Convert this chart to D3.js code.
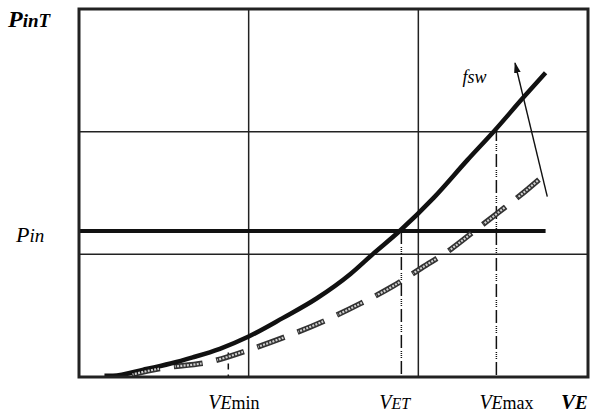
<!DOCTYPE html>
<html>
<head>
<meta charset="utf-8">
<script src="https://cdn.jsdelivr.net/npm/d3@7"></script>
<style>
  body { margin: 0; background: #fff; }
</style>
</head>
<body>
<script>
// schematic units: 3 grid cells each way
const gridX = [1, 2];
const gridY = [1, 2];

// PinT vs VE, fixed switching frequency (solid)
const solidVE = [0.15, 0.20, 0.38, 0.54, 0.67, 0.83, 1.00, 1.20, 1.40, 1.60, 1.73, 1.89, 2.09, 2.29, 2.45, 2.62, 2.75];
const solidP  = [0.01, 0.01, 0.06, 0.11, 0.16, 0.23, 0.33, 0.48, 0.64, 0.84, 1.00, 1.19, 1.46, 1.77, 2.01, 2.28, 2.48];

// PinT vs VE, higher switching frequency (hatched dashes)
const dashVE = [0.31, 0.48, 0.76, 1.02, 1.24, 1.45, 1.66, 1.85, 2.02, 2.19, 2.33, 2.48, 2.60, 2.72];
const dashP  = [0.02, 0.07, 0.12, 0.23, 0.34, 0.46, 0.60, 0.74, 0.89, 1.04, 1.19, 1.35, 1.48, 1.62];

const pinLevel = 1.19;
const pinEnd = 2.75;

const markerVE = [0.88, 1.90, 2.46];
const markerTop = [0.20, 1.19, 2.03];

const arrowFrom = [2.76, 1.47];
const arrowTo = [2.57, 2.56];

const serif = "'Liberation Serif', 'DejaVu Serif', serif";

const margin = { top: 9, right: 8, bottom: 37, left: 79 },
    width = 596 - margin.left - margin.right,
    height = 414 - margin.top - margin.bottom;

const x = d3.scaleLinear().domain([0, 3]).range([0, width]);
const y = d3.scaleLinear().domain([0, 3]).range([height, 0]);

const svg = d3.select("body").append("svg")
    .attr("width", 596)
    .attr("height", 414)
    .style("font-family", serif);

const defs = svg.append("defs");

const g = svg.append("g")
    .attr("transform", "translate(" + margin.left + "," + margin.top + ")");

// grid
g.selectAll("line.gx").data(gridX).enter().append("line")
    .attr("x1", d => x(d)).attr("x2", d => x(d))
    .attr("y1", 0).attr("y2", height)
    .attr("stroke", "#222").attr("stroke-width", 1.5);
g.selectAll("line.gy").data(gridY).enter().append("line")
    .attr("y1", d => y(d)).attr("y2", d => y(d))
    .attr("x1", 0).attr("x2", width)
    .attr("stroke", "#222").attr("stroke-width", 1.5);

// Pin level
g.append("line")
    .attr("x1", x(0)).attr("x2", x(pinEnd))
    .attr("y1", y(pinLevel)).attr("y2", y(pinLevel))
    .attr("stroke", "#111").attr("stroke-width", 4);

// drop lines
const dropDash = ["6,5", "13,3,1,1,1,1,1,1,1,3", "13,3,1,1,1,1,1,1,1,3"];
g.selectAll("line.drop").data(markerVE).enter().append("line")
    .attr("x1", d => x(d)).attr("x2", d => x(d))
    .attr("y1", (d, i) => y(markerTop[i])).attr("y2", height)
    .attr("stroke", "#111").attr("stroke-width", 1.5)
    .attr("stroke-dasharray", (d, i) => dropDash[i]);

const line = d3.line()
    .x(d => x(d[0])).y(d => y(d[1]))
    .curve(d3.curveMonotoneX);

// hatched dashed curve: dark dashes with a light dotted core kept inside the dashes
const dashData = dashVE.map((v, i) => [v, dashP[i]]);
defs.append("mask").attr("id", "dashmask")
    .attr("maskUnits", "userSpaceOnUse")
    .attr("x", -100).attr("y", -100).attr("width", 800).attr("height", 600)
    .append("path").datum(dashData)
    .attr("transform", "translate(" + margin.left + "," + margin.top + ")")
    .attr("d", line)
    .attr("fill", "none").attr("stroke", "#fff").attr("stroke-width", 8)
    .attr("stroke-dasharray", "27,16")
    .attr("stroke-dashoffset", -1);
g.append("path").datum(dashData)
    .attr("d", line)
    .attr("fill", "none").attr("stroke", "#333").attr("stroke-width", 5.5)
    .attr("stroke-dasharray", "29,14");
const hatch = svg.append("g").attr("mask", "url(#dashmask)")
    .append("g").attr("transform", "translate(" + margin.left + "," + margin.top + ")");
hatch.append("path").datum(dashData)
    .attr("d", line)
    .attr("fill", "none").attr("stroke", "#d0d0d0").attr("stroke-width", 2.2)
    .attr("stroke-dasharray", "2,1.3");

const solidData = solidVE.map((v, i) => [v, solidP[i]]);
g.append("path").datum(solidData)
    .attr("d", line)
    .attr("fill", "none").attr("stroke", "#111").attr("stroke-width", 4.5)
    .attr("stroke-linejoin", "round");

// frequency arrow
defs.append("marker")
    .attr("id", "ah").attr("viewBox", "0 0 10 10")
    .attr("refX", 9).attr("refY", 5)
    .attr("markerWidth", 8).attr("markerHeight", 8)
    .attr("orient", "auto")
    .append("path").attr("d", "M0,2 L10,5 L0,8 Z").attr("fill", "#111");
g.append("line")
    .attr("x1", x(arrowFrom[0])).attr("y1", y(arrowFrom[1]))
    .attr("x2", x(arrowTo[0])).attr("y2", y(arrowTo[1]))
    .attr("stroke", "#111").attr("stroke-width", 1.4)
    .attr("marker-end", "url(#ah)");
g.append("text")
    .attr("x", x(2.26)).attr("y", 74)
    .style("font-style", "italic").style("font-size", "18px")
    .text("fsw");

// frame
g.append("rect")
    .attr("x", 0).attr("y", 0)
    .attr("width", width).attr("height", height)
    .attr("fill", "none").attr("stroke", "#222").attr("stroke-width", 3);

// labels
const t1 = svg.append("text").attr("x", 8).attr("y", 27)
    .style("font-weight", "bold").style("font-style", "italic");
t1.append("tspan").style("font-size", "24px").text("P");
t1.append("tspan").style("font-size", "19px").text("inT");

const t2 = svg.append("text").attr("x", 16).attr("y", margin.top + y(pinLevel) + 11)
    .style("font-style", "italic");
t2.append("tspan").style("font-size", "22px").text("P");
t2.append("tspan").style("font-size", "19px").text("in");

const labelY = 409;
const labelParts = [
    [["V", 20, "italic"], ["E", 18, "italic"], ["min", 18, "normal"]],
    [["V", 20, "italic"], ["ET", 16, "italic"]],
    [["V", 20, "italic"], ["E", 18, "italic"], ["max", 18, "normal"]]
];
const labelDx = [-20, -22, -17];
labelParts.forEach((parts, i) => {
    const t = svg.append("text")
        .attr("x", margin.left + x(markerVE[i]) + labelDx[i])
        .attr("y", labelY);
    parts.forEach(p => t.append("tspan")
        .style("font-size", p[1] + "px").style("font-style", p[2]).text(p[0]));
});
const tv = svg.append("text").attr("x", 561).attr("y", labelY)
    .style("font-weight", "bold").style("font-style", "italic");
tv.append("tspan").style("font-size", "21px").text("V");
tv.append("tspan").style("font-size", "19px").text("E");
</script>
</body>
</html>
